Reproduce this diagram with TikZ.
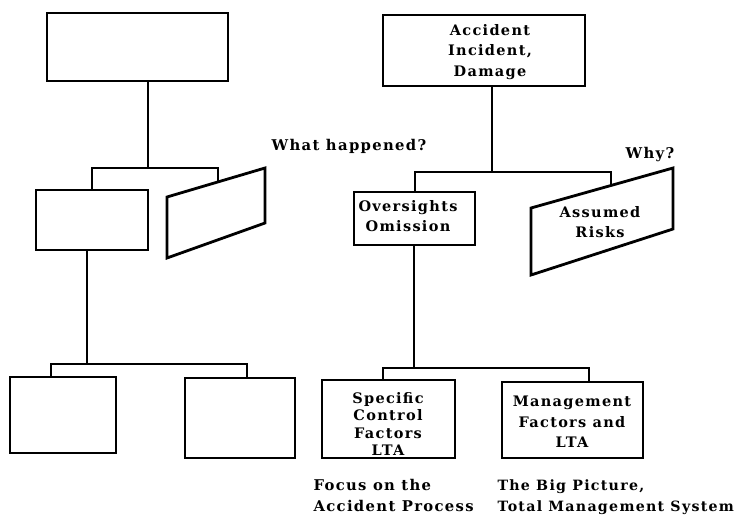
\documentclass[tikz,border=0pt]{standalone}
\usepackage{fontspec}
\setmainfont{DejaVu Serif}[LetterSpace=9]
\usetikzlibrary{calc}
\tikzset{
  box/.style={draw, line width=2.8pt, inner sep=0pt, align=center},
  lbl/.style={font=\bfseries\fontsize{14.5}{20.5}\selectfont, align=center},
  tight/.style={font=\bfseries\fontsize{14.5}{17.5}\selectfont, align=center},
  outer/.style={font=\bfseries\fontsize{14.8}{21}\selectfont, align=left},
  conn/.style={line width=1.3pt},
  para/.style={draw, line width=2.8pt, line join=miter},
}
\begin{document}
\begin{tikzpicture}[x=1pt,y=-1pt]
\useasboundingbox (0,0) rectangle (745,515);
% ---------------- left tree ----------------
\node[box, minimum width=181pt, minimum height=68pt] (L1) at (137.5,47) {};
\node[box, minimum width=112pt, minimum height=60pt] (L2) at (92,220) {};
\coordinate (pLa) at (167,197);
\coordinate (pLb) at (265,168);
\coordinate (pLc) at (265,223);
\coordinate (pLd) at (167,258);
\draw[para] (pLa) -- (pLb) -- (pLc) -- (pLd) -- cycle;
\node[box, minimum width=106pt, minimum height=76pt] (L3) at (63,415) {};
\node[box, minimum width=110pt, minimum height=80pt] (L4) at (240,418) {};
\coordinate (jL1) at (148,168);
\coordinate (rL1) at ($(pLa)!0.52!(pLb)$);
\draw[conn] (L1.south -| jL1) -- (jL1);
\draw[conn] (L2.north) -- (L2.north |- jL1) -- (rL1 |- jL1) -- (rL1);
\coordinate (jL2) at (87,364);
\draw[conn] (L2.south -| jL2) -- (jL2);
\draw[conn] (L3.north -| 51,0) -- (51,364) -- (247,364) -- (L4.north -| 247,0);
% ---------------- right tree ----------------
\node[box, minimum width=202pt, minimum height=71pt] (R1) at (484,50.5) {};
\node[lbl] (R1t) at (490,52) {Accident\\Incident,\\Damage};
\node[box, minimum width=121pt, minimum height=53pt] (R2) at (414.5,218.5) {};
\node[lbl] (R2t) at (408,216) {Oversights\\Omission};
\coordinate (pRa) at (531,208);
\coordinate (pRb) at (673,168);
\coordinate (pRc) at (673,229);
\coordinate (pRd) at (531,275);
\draw[para] (pRa) -- (pRb) -- (pRc) -- (pRd) -- cycle;
\node[lbl] (R3t) at (600,222) {Assumed\\Risks};
\node[box, minimum width=133pt, minimum height=78pt] (R4) at (388.5,419) {};
\node[tight] (R4t) at (388,424) {Specific\\Control\\Factors\\LTA};
\node[box, minimum width=141pt, minimum height=76pt] (R5) at (572.5,420) {};
\node[lbl] (R5t) at (572,422) {Management\\Factors and\\LTA};
\coordinate (jR1) at (492,172);
\coordinate (rR1) at ($(pRa)!0.563!(pRb)$);
\draw[conn] (R1.south -| jR1) -- (jR1);
\draw[conn] (R2.north -| 415,0) -- (415,172) -- (rR1 |- jR1) -- (rR1);
\coordinate (jR2) at (414,368);
\draw[conn] (R2.south -| jR2) -- (jR2);
\draw[conn] (R4.north -| 383,0) -- (383,368) -- (589,368) -- (R5.north -| 589,0);
% ---------------- labels ----------------
\node[outer] (what) at (349,146) {What happened?};
\node[outer] (why) at (650,155) {Why?};
\node[outer, anchor=north west] (focus) at (310,476) {Focus on the\\Accident Process};
\node[outer, anchor=north west, font=\bfseries\fontsize{14.2}{21}\selectfont] (big) at (494,476) {The Big Picture,\\Total Management System};
\end{tikzpicture}
\end{document}
